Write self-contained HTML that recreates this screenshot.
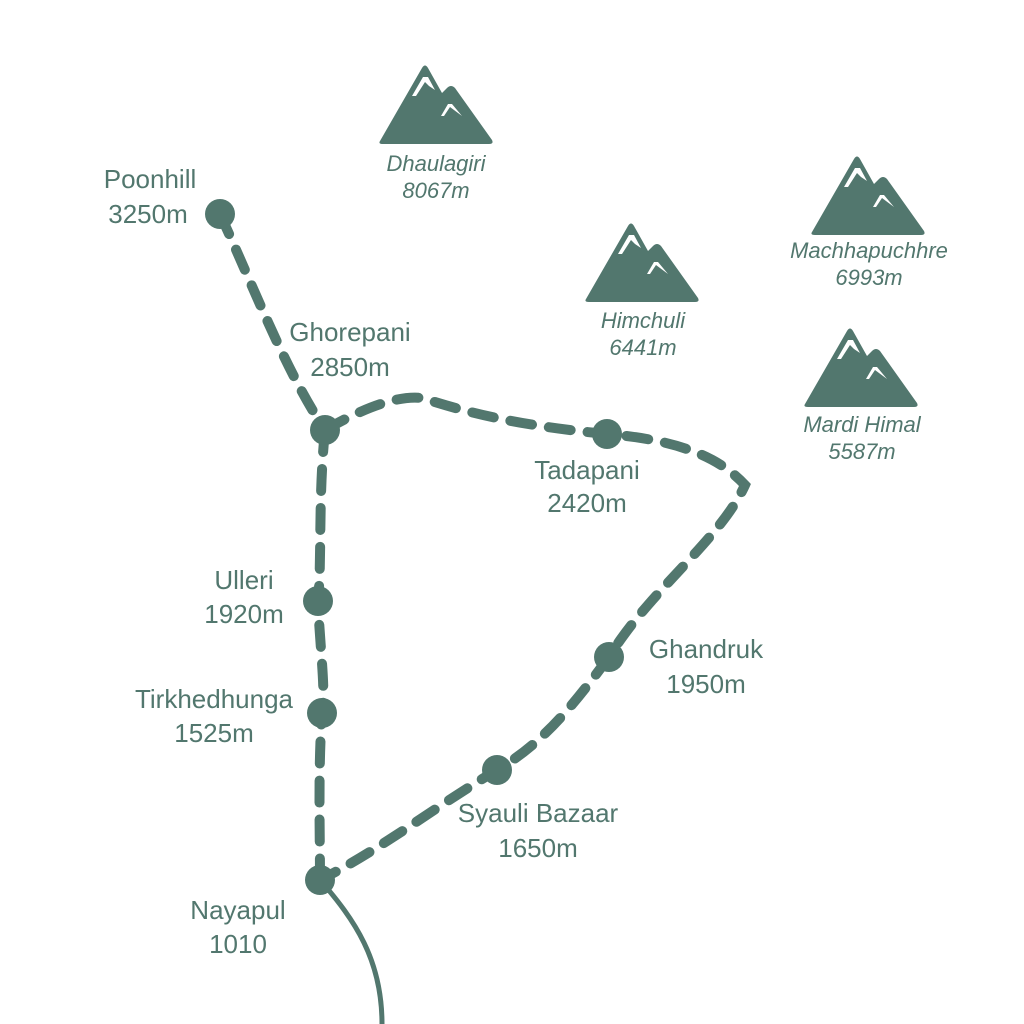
<!DOCTYPE html>
<html><head><meta charset="utf-8"><style>
html,body{margin:0;padding:0;background:#fff;}
svg{display:block;}
text{font-family:"Liberation Sans",sans-serif;fill:#52776e;}
.l{font-size:26px;text-anchor:middle;}
.m{font-size:22px;font-style:italic;text-anchor:middle;}
</style></head><body>
<svg width="1024" height="1024" viewBox="0 0 1024 1024" xmlns="http://www.w3.org/2000/svg">
<defs>
<g id="mt">
<path d="M2 77 L44 4 Q47 -1 50 4 L64 29 L69 24 Q73 20 77 24 L114 76 Q116 80 111 80 L5 80 Q0 80 2 77Z" fill="#52776e"/>
<path d="M34 32 L45 13 L50 13 L57 26 L51 22 L47 18 L38 32 Z" fill="#fff"/>
<path d="M63 52 L70 40 L74 40 L84 52 L76 46 L72 43 L66 52 Z" fill="#fff"/>
</g>
</defs>
<use href="#mt" x="378" y="64"/>
<use href="#mt" x="584" y="222"/>
<use href="#mt" x="810" y="155"/>
<use href="#mt" x="803" y="327"/>
<text class="m" x="436" y="171">Dhaulagiri</text>
<text class="m" x="436" y="198">8067m</text>
<text class="m" x="643" y="328">Himchuli</text>
<text class="m" x="643" y="355">6441m</text>
<text class="m" x="869" y="258">Machhapuchhre</text>
<text class="m" x="869" y="285">6993m</text>
<text class="m" x="862" y="432">Mardi Himal</text>
<text class="m" x="862" y="459">5587m</text>

<g fill="none" stroke="#52776e" stroke-width="10" stroke-linecap="round" stroke-dasharray="22 17">
<path d="M220 214 C255 290 285 370 325 430"/>
<path d="M325 430 C360 410 395 395 422 398 C460 410 510 425 607 434 C680 440 720 458 745 485 C720 540 650 590 609 657 C570 710 540 745 497 770 C430 810 380 850 320 880"/>
<path d="M325 430 C318 500 322 560 318 601 C320 650 326 690 322 713 C318 770 320 830 320 880"/>
</g>
<path d="M320 880 C355 920 382 960 382 1024" fill="none" stroke="#52776e" stroke-width="5"/>
<g fill="#52776e">
<circle cx="220" cy="214" r="15"/>
<circle cx="325" cy="430" r="15"/>
<circle cx="607" cy="434" r="15"/>
<circle cx="318" cy="601" r="15"/>
<circle cx="322" cy="713" r="15"/>
<circle cx="320" cy="880" r="15"/>
<circle cx="497" cy="770" r="15"/>
<circle cx="609" cy="657" r="15"/>
</g>
<text class="l" x="150" y="188">Poonhill</text>
<text class="l" x="148" y="223">3250m</text>
<text class="l" x="350" y="341">Ghorepani</text>
<text class="l" x="350" y="376">2850m</text>
<text class="l" x="587" y="479">Tadapani</text>
<text class="l" x="587" y="512">2420m</text>
<text class="l" x="244" y="589">Ulleri</text>
<text class="l" x="244" y="623">1920m</text>
<text class="l" x="214" y="708">Tirkhedhunga</text>
<text class="l" x="214" y="742">1525m</text>
<text class="l" x="706" y="658">Ghandruk</text>
<text class="l" x="706" y="693">1950m</text>
<text class="l" x="538" y="822">Syauli Bazaar</text>
<text class="l" x="538" y="857">1650m</text>
<text class="l" x="238" y="919">Nayapul</text>
<text class="l" x="238" y="953">1010</text>
</svg>
</body></html>
